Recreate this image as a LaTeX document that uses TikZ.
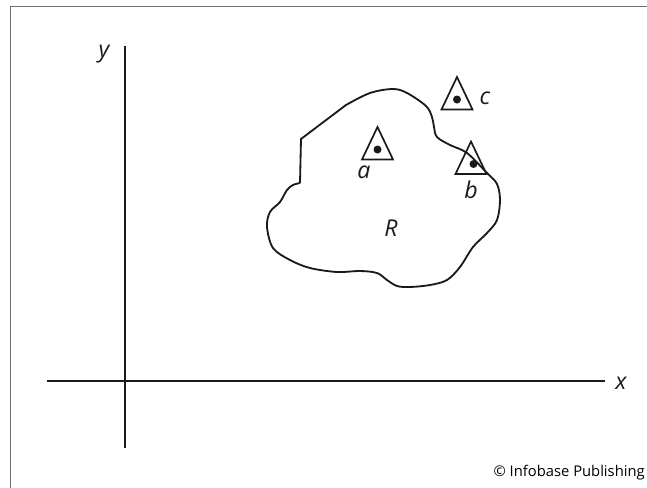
\documentclass[tikz,border=0pt]{standalone}
\usepackage{fontspec}
\setmainfont{Open Sans}
\usetikzlibrary{calc}

\begin{document}
\begin{tikzpicture}[x={(0.025cm,0)}, y={(0,-0.025cm)}]
    % Define colours
    \definecolor{frameColour}{HTML}{6E6E6E}
    \definecolor{lineColour}{HTML}{1A1A1A}

    % Styles for labels and markers
    \tikzset{
        axis/.style={line width=1.4pt, lineColour},
        region/.style={line width=1.3pt, lineColour},
        marker/.style={line width=1.2pt, lineColour, line join=miter},
        lbl/.style={font=\fontsize{16.5}{19}\selectfont\itshape, inner sep=0pt, text=lineColour}
    }

    % Fix the page size
    \useasboundingbox (0,0) rectangle (647,488);

    % Draw frame (top and left edge only)
    \draw[frameColour, line width=1.4pt] (10.5,488) -- (10.5,6.5) -- (647,6.5);

    % Draw axes
    \coordinate (xStart) at (47,381);
    \coordinate (xEnd) at (605,381);
    \coordinate (yStart) at (125,448);
    \coordinate (yEnd) at (125,46);
    \draw[axis] (xStart) -- (xEnd);
    \draw[axis] (yStart) -- (yEnd);

    % Label axes
    \node[lbl] (xLabel) at (621,383) {x};
    \node[lbl] (yLabel) at (104,54) {y};

    % Draw the region R
    \draw[region] (300,183) -- (301,139) -- (346,105)
        -- plot[smooth, tension=0.55] coordinates {
            (346,105) (370,93) (393,89) (407,93) (426,106) (432,117)
            (434,127) (437,137) (450,145) (467,153) (487,173) (497,184)
            (500,200) (497,220) (487,233) (473,247) (460,267) (447,280)
            (430,285) (410,287) (397,286) (387,280) (377,273) (360,271)
            (337,272) (310,268) (290,260) (273,248) (267,227) (270,212)
            (280,202) (287,190) (293,185) (300,183)};
    \node[lbl] (rLabel) at (391,228) {R};

    % Define coordinates for the points
    \coordinate (a) at (377.5,149.5);
    \coordinate (b) at (473.5,164);
    \coordinate (c) at (457,99.5);

    % Draw the triangles around the points
    \foreach \p/\dx in {a/0, b/-2.5, c/0} {
        \draw[marker] ($(\p)+(\dx,-22.5)$) -- ($(\p)+(\dx-15.5,10)$)
            -- ($(\p)+(\dx+15.5,10)$) -- cycle;
        \fill[lineColour] (\p) circle (4);
    }

    % Label the points
    \node[lbl] (aLabel) at (364,172) {a};
    \node[lbl] (bLabel) at (471,190) {b};
    \node[lbl] (cLabel) at (485,98) {c};

    % Copyright line
    \node[anchor=east, font=\fontsize{10.5}{12}\selectfont, inner sep=0pt] (credit)
        at (645,473) {© Infobase Publishing};

\end{tikzpicture}
\end{document}
